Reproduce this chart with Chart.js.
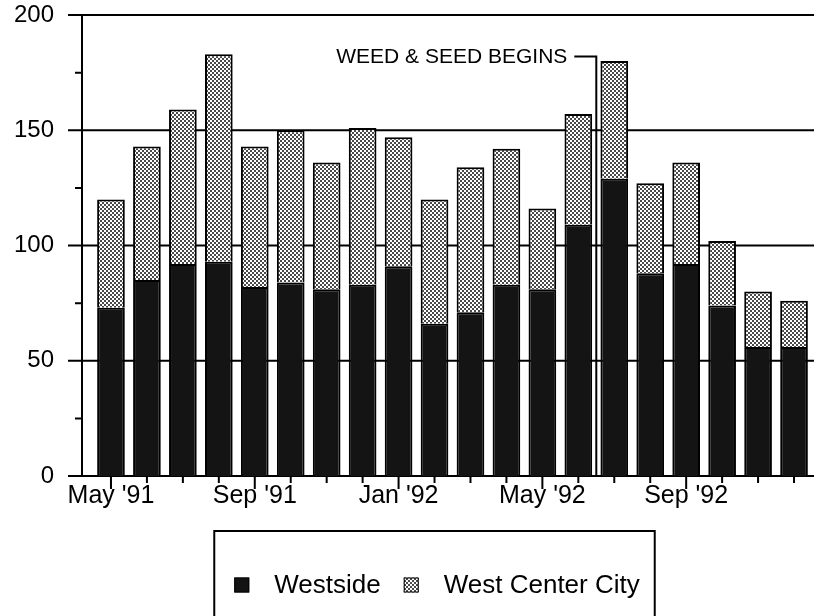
<!DOCTYPE html>
<html>
<head>
<meta charset="utf-8">
<script src="https://cdn.jsdelivr.net/npm/chart.js@4.4.1/dist/chart.umd.min.js"></script>
<style>
  html, body { margin: 0; padding: 0; background: #fff; }
  canvas { display: block; }
</style>
</head>
<body>
<canvas id="crimeChart" width="814" height="616"></canvas>
<script>
const months = ["May '91", "Jun '91", "Jul '91", "Aug '91", "Sep '91", "Oct '91", "Nov '91", "Dec '91",
  "Jan '92", "Feb '92", "Mar '92", "Apr '92", "May '92", "Jun '92", "Jul '92", "Aug '92",
  "Sep '92", "Oct '92", "Nov '92", "Dec '92"];
const shownLabels = ["May '91", "Sep '91", "Jan '92", "May '92", "Sep '92"];
const westside = [73, 85, 92, 93, 82, 84, 81, 83, 91, 66, 71, 83, 81, 109, 129, 88, 92, 74, 56, 56];
const westCenterCity = [47, 58, 67, 90, 61, 66, 55, 68, 56, 54, 63, 59, 35, 48, 51, 39, 44, 28, 24, 20];
const yTicks = [0, 50, 100, 150, 200];
const yMinorTicks = [25, 75, 125, 175];
const eventMonth = "Jun '92";
const eventText = "WEED & SEED BEGINS";

const FONT = "'Liberation Sans', Arial, Helvetica, sans-serif";

function stipple() {
  const c = document.createElement('canvas');
  c.width = 4; c.height = 4;
  const g = c.getContext('2d');
  g.fillStyle = '#fff';
  g.fillRect(0, 0, 4, 4);
  g.fillStyle = '#4a4a4a';
  g.fillRect(0, 0, 2, 2);
  g.fillRect(2, 2, 2, 2);
  return g.createPattern(c, 'repeat');
}

// axis lines, gridlines and ticks drawn the old-fashioned way (they stick out past the plot)
const oldAxes = {
  id: 'oldAxes',
  beforeDatasetsDraw(chart) {
    const { ctx, scales: { x, y }, chartArea } = chart;
    const axisX = chartArea.left - 11;
    const y0 = y.getPixelForValue(0);
    ctx.save();
    ctx.strokeStyle = '#000';
    ctx.lineWidth = 2;
    ctx.beginPath();
    yTicks.forEach(v => {
      const py = y.getPixelForValue(v);
      ctx.moveTo(axisX - 14, py);
      ctx.lineTo(chart.width, py);
    });
    yMinorTicks.forEach(v => {
      const py = y.getPixelForValue(v);
      ctx.moveTo(axisX - 7, py);
      ctx.lineTo(axisX, py);
    });
    ctx.moveTo(axisX, y.getPixelForValue(200));
    ctx.lineTo(axisX, y0);
    months.forEach((m, i) => {
      const px = x.getPixelForValue(i);
      ctx.moveTo(px, y0);
      ctx.lineTo(px, y0 + (shownLabels.includes(m) ? 13 : 7));
    });
    ctx.stroke();
    ctx.restore();
  },
  afterDatasetsDraw(chart) {
    const { ctx, scales: { x, y } } = chart;
    const i = months.indexOf(eventMonth);
    const lx = (x.getPixelForValue(i) + x.getPixelForValue(i + 1)) / 2;
    const ty = y.getPixelForValue(182);
    ctx.save();
    ctx.strokeStyle = '#000';
    ctx.lineWidth = 2;
    ctx.beginPath();
    ctx.moveTo(lx - 22, ty);
    ctx.lineTo(lx, ty);
    ctx.lineTo(lx, y.getPixelForValue(0));
    ctx.stroke();
    ctx.fillStyle = '#000';
    ctx.font = '21px ' + FONT;
    ctx.textAlign = 'right';
    ctx.textBaseline = 'middle';
    ctx.fillText(eventText, lx - 29, ty + 1);
    ctx.restore();
  },
  afterDraw(chart) {
    // boxed legend under the axis
    const { ctx } = chart;
    const cy = 585, sw = 15;
    ctx.save();
    ctx.font = '26px ' + FONT;
    ctx.textBaseline = 'middle';
    const items = chart.data.datasets.map(d => ({ text: d.label, fill: d.backgroundColor, w: ctx.measureText(d.label).width }));
    const total = items.reduce((s, it) => s + sw + 25 + it.w, 0) + 23 * (items.length - 1);
    let px = chart.width / 2 + 30 - total / 2;
    const left = px - 20;
    items.forEach((it, k) => {
      ctx.fillStyle = it.fill;
      ctx.fillRect(px, cy - sw / 2, sw, sw);
      ctx.strokeStyle = '#000';
      ctx.lineWidth = 1;
      ctx.strokeRect(px + 0.5, cy - sw / 2 + 0.5, sw - 1, sw - 1);
      px += sw + 25;
      ctx.fillStyle = '#000';
      ctx.fillText(it.text, px, cy + 1);
      px += it.w + (k < items.length - 1 ? 23 : 0);
    });
    const right = px + 15;
    ctx.lineWidth = 2;
    ctx.strokeRect(left, 531, right - left, chart.height - 531 + 10);
    ctx.restore();
  }
};

const ctx = document.getElementById('crimeChart').getContext('2d');
new Chart(ctx, {
  type: 'bar',
  data: {
    labels: months,
    datasets: [
      {
        label: 'Westside',
        data: westside,
        backgroundColor: '#141414',
        borderColor: '#000',
        borderWidth: 2
      },
      {
        label: 'West Center City',
        data: westCenterCity,
        backgroundColor: stipple(),
        borderColor: '#000',
        borderWidth: 2
      }
    ]
  },
  options: {
    responsive: false,
    animation: false,
    devicePixelRatio: 1,
    layout: { padding: { left: 0, right: 2, top: 15, bottom: 0 } },
    datasets: { bar: { categoryPercentage: 1, barPercentage: 0.77 } },
    scales: {
      x: {
        stacked: true,
        grid: { display: false, drawTicks: false },
        border: { display: false },
        ticks: {
          autoSkip: false,
          maxRotation: 0,
          padding: 5,
          color: '#000',
          font: { family: FONT, size: 25 },
          callback: (v, i) => shownLabels.includes(months[i]) ? months[i] : ''
        },
        afterFit: s => { s.height = 140; s.paddingLeft = 0; s.paddingRight = 0; }
      },
      y: {
        stacked: true,
        min: 0,
        max: 200,
        grid: { display: false, drawTicks: false },
        border: { display: false },
        ticks: {
          stepSize: 50,
          padding: 39,
          color: '#000',
          font: { family: FONT, size: 24 }
        },
        afterFit: s => { s.width = 93; s.paddingTop = 0; s.paddingBottom = 0; }
      }
    },
    plugins: {
      legend: { display: false },
      tooltip: { enabled: false }
    }
  },
  plugins: [oldAxes]
});
</script>
</body>
</html>
